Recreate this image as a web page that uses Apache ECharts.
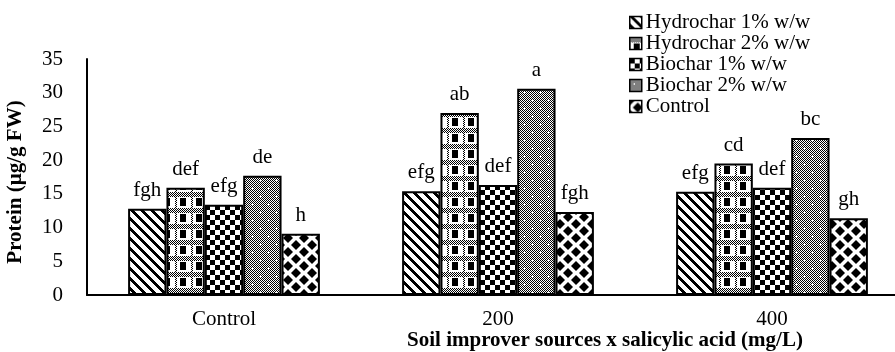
<!DOCTYPE html>
<html>
<head>
<meta charset="utf-8">
<script src="https://cdn.jsdelivr.net/npm/echarts@6/dist/echarts.min.js"></script>
<style>html,body{margin:0;padding:0;background:#fff;}#chart{width:895px;height:352px;}</style>
</head>
<body>
<div id="chart"></div>
<script>
const categories = ['Control', '200', '400'];
const seriesNames = ['Hydrochar 1% w/w', 'Hydrochar 2% w/w', 'Biochar 1% w/w', 'Biochar 2% w/w', 'Control'];
const hydrochar1 = [12.8, 15.4, 15.3];
const hydrochar2 = [15.9, 27.0, 19.5];
const biochar1 = [13.4, 16.3, 15.9];
const biochar2 = [17.7, 30.6, 23.3];
const controlVals = [9.1, 12.3, 11.4];
const hydrochar1Letters = ['fgh', 'efg', 'efg'];
const hydrochar2Letters = ['def', 'ab', 'cd'];
const biochar1Letters = ['efg', 'def', 'def'];
const biochar2Letters = ['de', 'a', 'bc'];
const controlLetters = ['h', 'fgh', 'gh'];
const yTicks = [0, 5, 10, 15, 20, 25, 30, 35];

function tile(w, h, draw) {
  const c = document.createElement('canvas');
  c.width = w; c.height = h;
  const ctx = c.getContext('2d');
  ctx.fillStyle = '#fff';
  ctx.fillRect(0, 0, w, h);
  ctx.fillStyle = '#000';
  draw(ctx, w, h);
  return { image: c, repeat: 'repeat' };
}
function px(ctx, x, y) { ctx.fillRect(x, y, 1, 1); }
function dither(ctx, x0, y0, w, h) {
  for (let y = y0; y < y0 + h; y++) for (let x = x0; x < x0 + w; x++) if ((x + y) % 2 === 0) px(ctx, x, y);
}
const patH1 = tile(10, 10, (ctx, w, h) => {
  for (let y = 0; y < h; y++) for (let x = 0; x < w; x++) if ((((x - y) % 10) + 10) % 10 < 4) px(ctx, x, y);
});
const patH2 = tile(16, 16, (ctx) => {
  dither(ctx, 0, 0, 16, 5);
  ctx.fillStyle = '#000';
  ctx.fillRect(4, 6, 6, 8);
  dither(ctx, 0, 5, 1, 11);
  dither(ctx, 15, 5, 1, 11);
});
const patB1 = tile(10, 10, (ctx) => {
  ctx.fillRect(0, 0, 5, 5);
  ctx.fillRect(5, 5, 5, 5);
});
const patB2 = tile(16, 16, (ctx) => {
  dither(ctx, 0, 0, 16, 16);
  ctx.fillStyle = '#fff';
  [[4, 4], [12, 12]].forEach(([cx, cy]) => {
    px(ctx, cx, cy); px(ctx, cx - 1, cy); px(ctx, cx + 1, cy); px(ctx, cx, cy - 1); px(ctx, cx, cy + 1);
  });
});
const patCtrl = tile(16, 14, (ctx) => {
  const r = 5;
  const centers = [[8, 7], [0, 0], [16, 0], [0, 14], [16, 14]];
  centers.forEach(([cx, cy]) => {
    ctx.beginPath();
    ctx.moveTo(cx, cy - r); ctx.lineTo(cx + r, cy); ctx.lineTo(cx, cy + r); ctx.lineTo(cx - r, cy); ctx.closePath();
    ctx.fill();
  });
});

const FONT = '"Liberation Serif", "Times New Roman", serif';
const FS = 21;
const valuesList = [hydrochar1, hydrochar2, biochar1, biochar2, controlVals];
const lettersList = [hydrochar1Letters, hydrochar2Letters, biochar1Letters, biochar2Letters, controlLetters];
const patterns = [patH1, patH2, patB1, patB2, patCtrl];

const series = seriesNames.map((name, i) => ({
  name: name,
  type: 'bar',
  data: valuesList[i],
  barGap: '0%',
  barCategoryGap: '30%',
  itemStyle: { color: patterns[i], borderColor: '#000', borderWidth: 2 },
  label: {
    show: true, position: 'top', distance: 8,
    formatter: p => lettersList[i][p.dataIndex],
    color: '#000', fontSize: FS, fontFamily: FONT
  },
  emphasis: { disabled: true }
}));

const chart = echarts.init(document.getElementById('chart'), null, { renderer: 'canvas' });
chart.setOption({
  animation: false,
  backgroundColor: '#fff',
  grid: { left: 87, right: -14, top: 59, bottom: 57, containLabel: false, outerBoundsMode: 'none' },
  legend: {
    orient: 'vertical', left: 629, top: 12, padding: 0,
    itemWidth: 12, itemHeight: 12, itemGap: 0,
    icon: 'rect',
    itemStyle: { borderColor: '#000', borderWidth: 1.5 },
    textStyle: { color: '#000', fontSize: FS, lineHeight: 21, fontFamily: FONT, padding: [0, 0, 0, -1] },
    data: seriesNames
  },
  xAxis: {
    type: 'category', data: categories,
    axisLine: { show: true, lineStyle: { color: '#000', width: 2 } },
    axisTick: { show: false },
    axisLabel: { color: '#000', fontSize: FS, fontFamily: FONT, margin: 14 },
    name: 'Soil improver sources x salicylic acid (mg/L)',
    nameLocation: 'middle', nameGap: 35, nameMoveOverlap: false,
    nameTextStyle: { color: '#000', fontSize: FS, fontWeight: 'bold', fontFamily: FONT, padding: [0, 0, 0, 214] }
  },
  yAxis: {
    type: 'value', min: 0, max: 35, interval: 5,
    axisLine: { show: true, lineStyle: { color: '#000', width: 2 } },
    axisTick: { show: false },
    splitLine: { show: false },
    axisLabel: { color: '#000', fontSize: FS, fontFamily: FONT, margin: 24, formatter: v => (yTicks.includes(v) ? String(v) : '') },
    name: 'Protein (µg/g FW)',
    nameLocation: 'middle', nameGap: 61, nameMoveOverlap: false,
    nameTextStyle: { color: '#000', fontSize: FS, fontWeight: 'bold', fontFamily: FONT, padding: [0, 10, 0, 0] }
  },
  series: series
});
</script>
</body>
</html>
